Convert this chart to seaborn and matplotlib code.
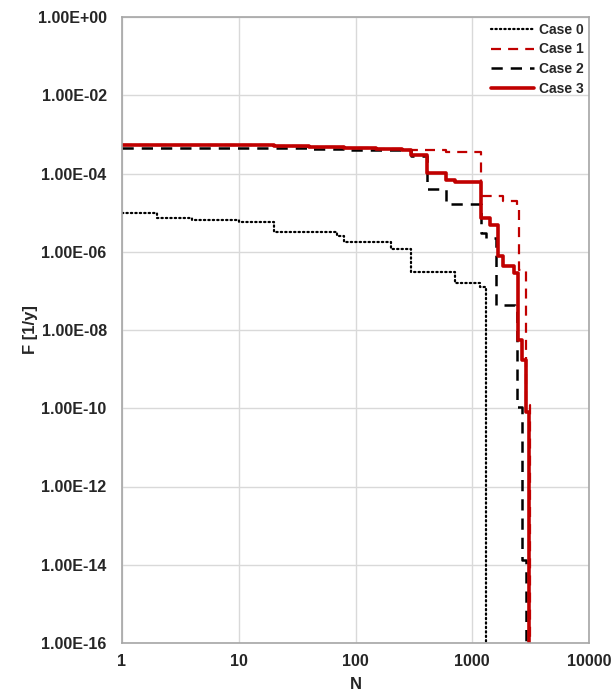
import matplotlib
matplotlib.use("Agg")
import matplotlib.pyplot as plt
import seaborn as sns
import pandas as pd
import numpy as np
from matplotlib.ticker import FixedLocator, FixedFormatter, NullLocator

sns.set_theme(style="white")
plt.rcParams['font.family'] = ['Liberation Sans', 'DejaVu Sans']

# Data (step curves, value holds until next N)
case0_N = [1, 2, 4, 10, 20, 70, 80, 200, 300, 710, 1170, 1300]
case0_F = [9.5e-6, 7.4e-6, 6.6e-6, 5.8e-6, 3.2e-6, 2.6e-6, 1.8e-6, 1.2e-6, 3.0e-7, 1.6e-7, 1.26e-7, 1e-20]

case1_N = [1, 3, 20, 40, 80, 150, 250, 600, 1200, 1830, 2400, 2500, 2880, 3150]
case1_F = [5.3e-4, 5.2e-4, 5.0e-4, 4.8e-4, 4.5e-4, 4.2e-4, 4.0e-4, 3.6e-4, 2.7e-5, 2.0e-5, 1.26e-5, 3.5e-7, 1.2e-10, 1e-20]

case2_N = [1, 3, 20, 40, 80, 150, 300, 410, 600, 1200, 1320, 1600, 2340, 2400, 2650, 2870]
case2_F = [4.6e-4, 4.5e-4, 4.4e-4, 4.3e-4, 4.1e-4, 4.0e-4, 2.8e-4, 3.9e-5, 1.7e-5, 3.0e-6, 2.2e-6, 4.4e-8, 3.6e-8, 1.1e-10, 1.3e-14, 1e-20]

case3_N = [1, 3, 20, 40, 80, 150, 250, 300, 410, 600, 710, 1200, 1420, 1660, 1830, 2300, 2450, 2650, 2870, 3050]
case3_F = [5.4e-4, 5.2e-4, 5.0e-4, 4.8e-4, 4.5e-4, 4.2e-4, 3.9e-4, 3.0e-4, 1.04e-4, 7.0e-5, 6.1e-5, 7.4e-6, 4.7e-6, 7.9e-7, 4.4e-7, 2.8e-7, 5.5e-9, 1.7e-9, 8e-11, 1e-20]

y_ticks = [1e0, 1e-2, 1e-4, 1e-6, 1e-8, 1e-10, 1e-12, 1e-14, 1e-16]
y_labels = ["1.00E+00", "1.00E-02", "1.00E-04", "1.00E-06", "1.00E-08",
            "1.00E-10", "1.00E-12", "1.00E-14", "1.00E-16"]
x_ticks = [1, 10, 100, 1000, 10000]
x_labels = ["1", "10", "100", "1000", "10000"]

red = "#C00000"

fig = plt.figure(figsize=(6.14, 6.95), dpi=100)
ax = fig.add_axes([122/614, 1-643/695, (589-122)/614, (643-17)/695])

series = [
    ("Case 0", case0_N, case0_F, dict(color="black", lw=1.6, linestyle=(0, (0.6, 1.4)), dash_capstyle="round")),
    ("Case 1", case1_N, case1_F, dict(color=red, lw=1.6, linestyle=(0, (4.5, 3.2)))),
    ("Case 2", case2_N, case2_F, dict(color="black", lw=1.8, linestyle=(0, (4.5, 3.2)))),
    ("Case 3", case3_N, case3_F, dict(color=red, lw=2.6, linestyle="-")),
]
for name, n, f, kw in series:
    df = pd.DataFrame({"N": n, "F": f})
    sns.lineplot(data=df, x="N", y="F", ax=ax, label=name, drawstyle="steps-post",
                 estimator=None, sort=False, **kw)

ax.set_xscale("log")
ax.set_yscale("log")
ax.set_xlim(1, 10000)
ax.set_ylim(1e-16, 1e0)
ax.yaxis.set_major_locator(FixedLocator(y_ticks))
ax.yaxis.set_major_formatter(FixedFormatter(y_labels))
ax.yaxis.set_minor_locator(NullLocator())
ax.xaxis.set_major_locator(FixedLocator(x_ticks))
ax.xaxis.set_major_formatter(FixedFormatter(x_labels))
ax.xaxis.set_minor_locator(NullLocator())
ax.grid(True, which="major", color="#D9D9D9", lw=1.0)
ax.set_axisbelow(True)
for s in ax.spines.values():
    s.set_color("#A6A6A6")
    s.set_linewidth(1.2)
ax.tick_params(axis="both", length=0, labelsize=11.5)
ax.tick_params(axis="y", pad=11)
ax.tick_params(axis="x", pad=8)
for lab in ax.get_xticklabels() + ax.get_yticklabels():
    lab.set_fontweight("bold")
ax.set_xlabel("N", fontsize=12, fontweight="bold", labelpad=6)
ax.set_ylabel("F [1/y]", fontsize=12, fontweight="bold", labelpad=0)

leg = ax.legend(loc="upper right", frameon=False, fontsize=10, handlelength=3.1,
                handletextpad=0.35, labelspacing=0.42, borderaxespad=0.1,
                borderpad=0.3)
for t in leg.get_texts():
    t.set_fontweight("bold")

fig.savefig("out.png", dpi=100)
